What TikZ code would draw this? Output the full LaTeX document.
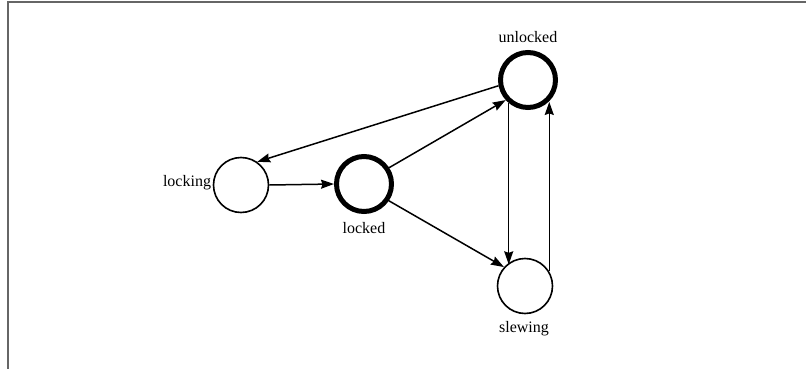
\documentclass[tikz,border=0pt]{standalone}
\usepackage{fontspec}
\setmainfont{Liberation Serif}
\usetikzlibrary{arrows.meta}
\begin{document}
\begin{tikzpicture}[x=1pt,y=-1pt,
  state/.style={circle,draw,minimum size=55pt,inner sep=0pt,line width=1.6pt,fill=white},
  heavy/.style={state,line width=5pt},
  lbl/.style={inner sep=0pt,font=\fontsize{16}{19}\selectfont},
  edge/.style={line width=1.5pt,-{Stealth[length=13pt,width=9pt,inset=1.5pt]}},
  frame/.style={draw=black!60,line width=1.6pt}]
\useasboundingbox (0,0) rectangle (806,369);
\coordinate (f1) at (806,2);
\coordinate (f2) at (8,2);
\coordinate (f3) at (8,369);
\draw[frame] (f1) -- (f2) -- (f3);
\node[state] (lockg) at (241,185) {};
\node[heavy] (lockd) at (364,184) {};
\node[heavy] (unl) at (528,80) {};
\node[state] (slew) at (525,286) {};
\node[lbl] (lockglbl) at (187,183) {locking};
\node[lbl] (lockdlbl) at (364,228) {locked};
\node[lbl] (unllbl) at (528,37) {unlocked};
\node[lbl] (slewlbl) at (524,329) {slewing};
\draw[edge] (unl.191) -- (lockg.55);
\draw[edge] (lockg.east) -- (lockd.west);
\draw[edge] (lockd.33) -- (unl.222);
\draw[edge] (lockd.-34) -- (slew.138);
\draw[edge] (unl.-130) -- (unl.-130 |- slew.130);
\draw[edge] (slew.31) -- (slew.31 |- unl.-47);
\end{tikzpicture}
\end{document}
